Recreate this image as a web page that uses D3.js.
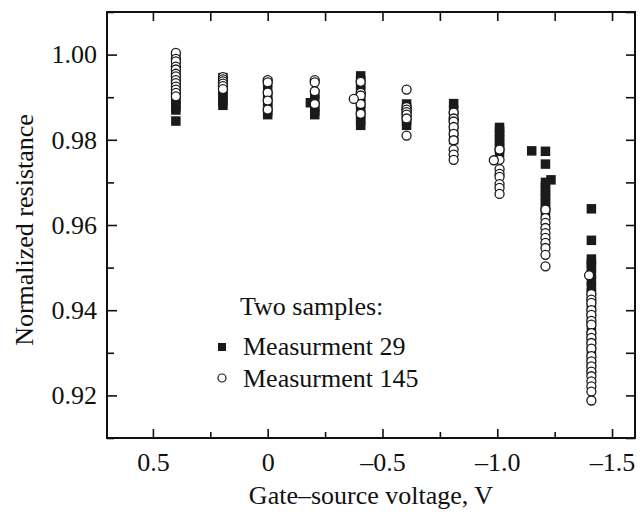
<!DOCTYPE html>
<html>
<head>
<meta charset="utf-8">
<script src="https://cdn.jsdelivr.net/npm/d3@7"></script>
<style>
  body { margin: 0; background: #fff; }
  svg { display: block; font-family: "Liberation Serif", "DejaVu Serif", serif; }
</style>
</head>
<body>
<svg></svg>
<script>
// measurement 29 (filled squares): [gate-source voltage, normalized resistance]
let meas29 = [
    [0.4, 0.9844], [0.4, 0.9870], [0.4, 0.9878], [0.4, 0.9886], [0.4, 0.9895], [0.4, 0.9910],
    [0.4, 0.9930], [0.4, 0.9950], [0.4, 0.9970], [0.4, 0.9990],
    [0.195, 0.9881], [0.195, 0.9890], [0.195, 0.9900], [0.195, 0.9910], [0.195, 0.9920], [0.195, 0.9935], [0.195, 0.9946],
    [0, 0.9859], [0, 0.9868], [0, 0.9878], [0, 0.9890], [0, 0.9902], [0, 0.9915], [0, 0.9935],
    [-0.205, 0.9859], [-0.205, 0.9868], [-0.205, 0.9878], [-0.186, 0.9887], [-0.205, 0.9895], [-0.205, 0.9907],
    [-0.405, 0.9834], [-0.405, 0.9845], [-0.405, 0.9858], [-0.405, 0.9870], [-0.405, 0.9885], [-0.405, 0.9900],
    [-0.405, 0.9915], [-0.405, 0.9930], [-0.405, 0.9940], [-0.405, 0.9950],
    [-0.605, 0.9834], [-0.605, 0.9845], [-0.605, 0.9855], [-0.605, 0.9865], [-0.605, 0.9875], [-0.605, 0.9884],
    [-0.81, 0.9885], [-0.81, 0.9870], [-0.81, 0.9855], [-0.81, 0.9840], [-0.81, 0.9820], [-0.81, 0.9800],
    [-1.01, 0.9829], [-1.01, 0.9820], [-1.01, 0.9810], [-1.01, 0.9800], [-1.01, 0.9790], [-1.01, 0.9780], [-1.01, 0.9770],
    [-1.15, 0.9774],
    [-1.21, 0.9773], [-1.21, 0.9743], [-1.234, 0.9706], [-1.21, 0.9700], [-1.21, 0.9690], [-1.21, 0.9680],
    [-1.21, 0.9670], [-1.21, 0.9662], [-1.21, 0.9650], [-1.21, 0.9640], [-1.21, 0.9630],
    [-1.41, 0.9638], [-1.41, 0.9564], [-1.41, 0.9520], [-1.41, 0.9510], [-1.41, 0.9500], [-1.41, 0.9485],
    [-1.41, 0.9470], [-1.41, 0.9455], [-1.41, 0.9440], [-1.41, 0.9420], [-1.41, 0.9400], [-1.41, 0.9380],
    [-1.41, 0.9360], [-1.41, 0.9340], [-1.41, 0.9320], [-1.41, 0.9300], [-1.41, 0.9280], [-1.41, 0.9260]
]

// measurement 145 (open circles)
let meas145 = [
    [0.4, 1.0004], [0.4, 0.9990], [0.4, 0.9984], [0.4, 0.9972], [0.4, 0.9965], [0.4, 0.9955], [0.4, 0.9949],
    [0.4, 0.9940], [0.4, 0.9933], [0.4, 0.9925], [0.4, 0.9918], [0.4, 0.9910], [0.4, 0.9902],
    [0.195, 0.9947], [0.195, 0.9942], [0.195, 0.9937], [0.195, 0.9932], [0.195, 0.9926], [0.195, 0.9919],
    [0, 0.9940], [0, 0.9935], [0, 0.9911], [0, 0.9892], [0, 0.9871],
    [-0.205, 0.9940], [-0.205, 0.9935], [-0.205, 0.9914], [-0.205, 0.9884],
    [-0.405, 0.9936], [-0.405, 0.9910], [-0.405, 0.9904], [-0.405, 0.9884], [-0.405, 0.9861], [-0.375, 0.9896],
    [-0.605, 0.9918], [-0.605, 0.9877], [-0.605, 0.9871], [-0.605, 0.9865], [-0.605, 0.9859], [-0.605, 0.9850], [-0.605, 0.9810],
    [-0.81, 0.9864], [-0.81, 0.9850], [-0.81, 0.9843], [-0.81, 0.9830], [-0.81, 0.9814], [-0.81, 0.9799],
    [-0.81, 0.9777], [-0.81, 0.9765], [-0.81, 0.9753],
    [-1.01, 0.9777], [-1.01, 0.9753], [-1.01, 0.9731], [-1.01, 0.9720], [-1.01, 0.9713], [-1.01, 0.9696],
    [-1.01, 0.9687], [-1.01, 0.9673], [-0.985, 0.9752],
    [-1.21, 0.9636], [-1.21, 0.9616], [-1.21, 0.9605], [-1.21, 0.9593], [-1.21, 0.9581], [-1.21, 0.9570],
    [-1.21, 0.9558], [-1.21, 0.9546], [-1.21, 0.9530], [-1.21, 0.9503],
    [-1.40, 0.9482], [-1.41, 0.9438], [-1.41, 0.9425], [-1.41, 0.9417], [-1.41, 0.9400], [-1.41, 0.9389],
    [-1.41, 0.9375], [-1.41, 0.9366], [-1.41, 0.9346], [-1.41, 0.9335], [-1.41, 0.9323], [-1.41, 0.9310],
    [-1.41, 0.9292], [-1.41, 0.9280], [-1.41, 0.9268], [-1.41, 0.9256], [-1.41, 0.9245], [-1.41, 0.9233],
    [-1.41, 0.9221], [-1.41, 0.9209], [-1.41, 0.9188]
]

let xMajor = [0.5, 0, -0.5, -1.0, -1.5]
let xMinor = [0.25, -0.25, -0.75, -1.25]
let yMajor = [0.92, 0.94, 0.96, 0.98, 1.00]
let yMinor = [0.91, 0.93, 0.95, 0.97, 0.99, 1.01]
let legendTitle = 'Two samples:'
let seriesNames = ['Measurment 29', 'Measurment 145']
let xTitle = 'Gate–source voltage, V'
let yTitle = 'Normalized resistance'

let w = 643
let h = 512
let padL = 107, padR = 635, padT = 12, padB = 438
let fontSize = 26

let svg = d3.select('svg').attr('width', w).attr('height', h)

let xScale = d3.scaleLinear().domain([0.7, -1.6]).range([padL, padR])
let yScale = d3.scaleLinear().domain([0.91, 1.01]).range([padB, padT])

let fmtX = (d) => d === 0 ? '0' : d3.format('.1f')(d).replace('-', '–').replace('−', '–')
let fmtY = d3.format('.2f')

let styleAxis = (g) => {
    g.select('.domain').remove()
    g.selectAll('.tick line').attr('stroke', '#111').attr('stroke-width', 1.6)
    g.selectAll('.tick text').attr('fill', '#111').attr('font-size', fontSize)
       .attr('font-family', '"Liberation Serif", serif')
}

// bottom + top
svg.append('g').attr('transform', 'translate(0,' + padB + ')')
   .call(d3.axisBottom(xScale).tickValues(xMajor).tickSize(-9).tickPadding(15).tickFormat(fmtX))
   .call(styleAxis)
svg.append('g').attr('transform', 'translate(0,' + padB + ')')
   .call(d3.axisBottom(xScale).tickValues(xMinor).tickSize(-6).tickFormat(''))
   .call(styleAxis)
svg.append('g').attr('transform', 'translate(0,' + padT + ')')
   .call(d3.axisTop(xScale).tickValues(xMajor.concat(xMinor)).tickSize(-9).tickFormat(''))
   .call(styleAxis)

// left + right
svg.append('g').attr('transform', 'translate(' + padL + ',0)')
   .call(d3.axisLeft(yScale).tickValues(yMajor).tickSize(-10).tickPadding(10).tickFormat(fmtY))
   .call(styleAxis)
svg.append('g').attr('transform', 'translate(' + padL + ',0)')
   .call(d3.axisLeft(yScale).tickValues(yMinor).tickSize(-7).tickFormat(''))
   .call(styleAxis)
svg.append('g').attr('transform', 'translate(' + padR + ',0)')
   .call(d3.axisRight(yScale).tickValues(yMajor.concat(yMinor)).tickSize(-9).tickFormat(''))
   .call(styleAxis)

// frame
svg.append('rect')
   .attr('x', padL).attr('y', padT)
   .attr('width', padR - padL).attr('height', padB - padT)
   .attr('fill', 'none').attr('stroke', '#111').attr('stroke-width', 2)

// markers
let sq = 9.5
svg.append('g').selectAll('rect')
   .data(meas29)
   .enter()
   .append('rect')
   .attr('x', (d) => xScale(d[0]) - sq / 2)
   .attr('y', (d) => yScale(d[1]) - sq / 2)
   .attr('width', sq)
   .attr('height', sq)
   .attr('fill', '#1a1a1a')

svg.append('g').selectAll('circle')
   .data(meas145)
   .enter()
   .append('circle')
   .attr('cx', (d) => xScale(d[0]))
   .attr('cy', (d) => yScale(d[1]))
   .attr('r', 4.5)
   .attr('fill', '#fff')
   .attr('stroke', '#1a1a1a')
   .attr('stroke-width', 1.3)

// legend
let legend = svg.append('g').attr('font-size', fontSize).attr('fill', '#111')
legend.append('text').attr('x', 240).attr('y', 315).text(legendTitle)
legend.append('rect').attr('x', 218).attr('y', 343).attr('width', 8).attr('height', 8).attr('fill', '#1a1a1a')
legend.append('text').attr('x', 243).attr('y', 355).text(seriesNames[0])
legend.append('circle').attr('cx', 222).attr('cy', 378).attr('r', 4)
   .attr('fill', '#fff').attr('stroke', '#1a1a1a').attr('stroke-width', 1.2)
legend.append('text').attr('x', 243).attr('y', 387).text(seriesNames[1])

// axis titles
svg.append('text')
   .attr('x', (padL + padR) / 2).attr('y', 504)
   .attr('text-anchor', 'middle').attr('font-size', fontSize).attr('fill', '#111')
   .text(xTitle)
svg.append('text')
   .attr('transform', 'translate(33,230) rotate(-90)')
   .attr('text-anchor', 'middle').attr('font-size', fontSize).attr('fill', '#111')
   .text(yTitle)
</script>
</body>
</html>
